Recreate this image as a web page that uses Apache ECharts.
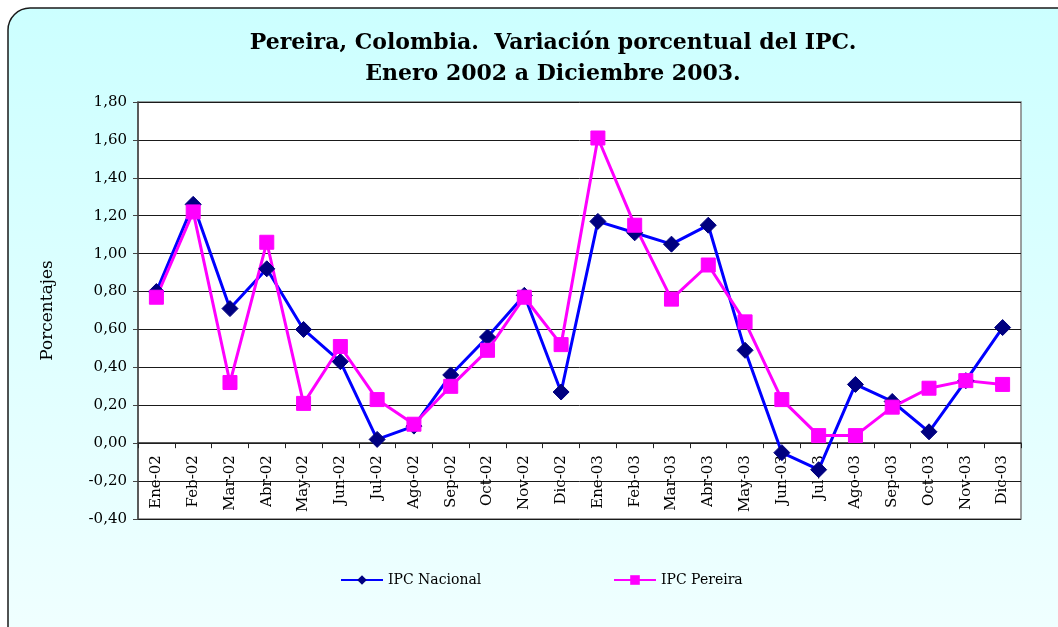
<!DOCTYPE html>
<html>
<head>
<meta charset="utf-8">
<script src="https://cdn.jsdelivr.net/npm/echarts@6/dist/echarts.min.js"></script>
<style>html,body{margin:0;padding:0;background:#fff;}#c{width:1058px;height:627px;}</style>
</head>
<body>
<div id="c"></div>
<script>
const categories = ['Ene-02','Feb-02','Mar-02','Abr-02','May-02','Jun-02','Jul-02','Ago-02','Sep-02','Oct-02','Nov-02','Dic-02',
  'Ene-03','Feb-03','Mar-03','Abr-03','May-03','Jun-03','Jul-03','Ago-03','Sep-03','Oct-03','Nov-03','Dic-03'];
const ipcNacional = [0.80,1.26,0.71,0.92,0.60,0.43,0.02,0.09,0.36,0.56,0.78,0.27,
  1.17,1.11,1.05,1.15,0.49,-0.05,-0.14,0.31,0.22,0.06,0.33,0.61];
const ipcPereira = [0.77,1.22,0.32,1.06,0.21,0.51,0.23,0.10,0.30,0.49,0.77,0.52,
  1.61,1.15,0.76,0.94,0.64,0.23,0.04,0.04,0.19,0.29,0.33,0.31];
const titleText = 'Pereira, Colombia.  Variación porcentual del IPC.\nEnero 2002 a Diciembre 2003.';
const serif = 'DejaVu Serif';
const yMin = -0.4, yMax = 1.8;
const gridTop = 102, gridBottom = 108, chartH = 627;

const plotH = chartH - gridTop - gridBottom;
const zeroOffset = -plotH * (0 - yMin) / (yMax - yMin);

const chart = echarts.init(document.getElementById('c'), null, {renderer:'canvas'});
chart.setOption({
  backgroundColor: '#ffffff',
  animation: false,
  graphic: [{
    type: 'rect', z: -10, silent: true,
    shape: {x: 8, y: 8, width: 1110, height: 700, r: 22},
    style: {
      fill: new echarts.graphic.LinearGradient(0,0,0,1,[{offset:0,color:'#ccffff'},{offset:1,color:'#f4ffff'}]),
      stroke: '#1a1a1a', lineWidth: 1.5
    }
  }],
  title: {
    text: titleText,
    left: 548, textAlign: 'center', top: 23,
    textStyle: {fontFamily: serif, fontWeight: 'bold', fontSize: 22, lineHeight: 31, color: '#000'}
  },
  legend: [
    {data: ['IPC Nacional'], left: 335, top: 568, itemWidth: 42, itemHeight: 12, itemGap: 4,
     textStyle: {fontFamily: serif, fontSize: 14, color: '#000'}},
    {data: ['IPC Pereira'], left: 608, top: 568, itemWidth: 42, itemHeight: 12, itemGap: 4,
     textStyle: {fontFamily: serif, fontSize: 14, color: '#000'}}
  ],
  grid: {left: 138, right: 37, top: gridTop, bottom: gridBottom, show: true, backgroundColor: '#ffffff', borderColor: '#808080', borderWidth: 1.5},
  xAxis: {
    type: 'category', data: categories, boundaryGap: true,
    offset: zeroOffset,
    axisLine: {onZero: false, lineStyle: {color: '#222', width: 1.5}},
    axisTick: {show: true, length: 5, lineStyle: {color: '#222'}},
    axisLabel: {rotate: 90, interval: 0, fontFamily: serif, fontSize: 15, color: '#000', margin: 12}
  },
  yAxis: {
    type: 'value', min: yMin, max: yMax, interval: 0.2,
    name: 'Porcentajes', nameLocation: 'middle', nameRotate: 90, nameGap: 82,
    nameTextStyle: {fontFamily: serif, fontSize: 17, color: '#000'},
    axisLine: {show: true, lineStyle: {color: '#444', width: 1.5}},
    axisTick: {show: true, length: 5, lineStyle: {color: '#444'}},
    axisLabel: {fontFamily: serif, fontSize: 15, color: '#000', margin: 11,
      formatter: v => v.toFixed(2).replace('.', ',')},
    splitLine: {show: true, lineStyle: {color: '#1a1a1a', width: 1}}
  },
  series: [
    {name: 'IPC Nacional', type: 'line', data: ipcNacional, symbol: 'diamond', symbolSize: 16,
     lineStyle: {color: '#0000ff', width: 3}, itemStyle: {color: '#000080', borderColor:'#000080'}},
    {name: 'IPC Pereira', type: 'line', data: ipcPereira, symbol: 'rect', symbolSize: 14,
     lineStyle: {color: '#ff00ff', width: 3}, itemStyle: {color: '#ff00ff', borderColor:'#ff00ff'}}
  ]
});
</script>
</body>
</html>
